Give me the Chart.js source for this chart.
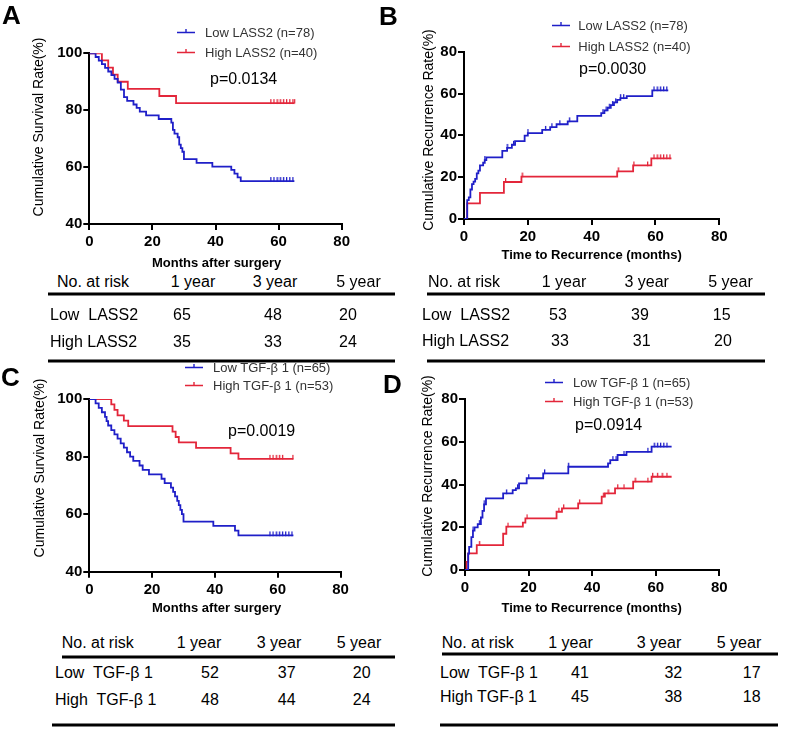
<!DOCTYPE html>
<html><head><meta charset="utf-8">
<script src="https://cdn.jsdelivr.net/npm/chart.js@4.4.1/dist/chart.umd.min.js"></script>
<style>
html,body{margin:0;padding:0;background:#fff;}
#wrap{position:relative;width:787px;height:730px;overflow:hidden;font-family:"Liberation Sans",Arial,Helvetica,sans-serif;color:#000;}
canvas{position:absolute;}
.t{position:absolute;white-space:pre;line-height:1;transform:translateY(-50%);}
.c{transform:translate(-50%,-50%);}
.r{transform:translate(-50%,-50%) rotate(-90deg);}
.hl{position:absolute;height:3px;background:#000;transform:translateY(-50%);}
</style></head><body><div id="wrap"></div>
<script>
// ---------- data ----------
const xTicks = [0, 20, 40, 60, 80];
const survTicks = [40, 60, 80, 100];
const recTicks = [0, 20, 40, 60, 80];

// Panel A: overall survival by LASS2
const tA_low  = [0,2,3,4,5,6,7,8,9,10,11,12,14,15,16,18,22,26,26.5,27,28,28.5,29,29.5,30,34,39,45,46,47,48,65];
const sA_low  = [100,98.7,97.4,96.2,94.9,93.6,92.3,91.0,89.7,87.2,84.6,83.3,82.0,80.8,79.5,78.2,76.9,75.6,73.1,71.8,70.5,67.9,66.7,65.4,62.8,61.5,60.2,59.0,57.7,56.4,55.1,55.1];
const cA_low  = [57.5,58.5,59.5,60.5,61.5,62.5,63.5,64.5];
const tA_high = [0,4,6,7.5,9,12.2,22.2,27.5,65];
const sA_high = [100,97.5,95,92.5,90,87.5,85,82.5,82.5];
const cA_high = [57.5,58.5,59.5,60.5,61.5,62.5,63.5,64.5,65];

// Panel B: recurrence by LASS2
const tB_low  = [0,1,1.5,2,2.5,3,3.5,4,4.5,5,6,6.5,7,12,13.5,15,16,19,20,24.5,27,29,32.5,35.5,43,44,45,46,47,48,49,51,59,64];
const sB_low  = [0,9.0,10.3,14.1,16.7,17.9,19.2,21.8,23.1,25.6,26.9,28.2,29.5,32.6,34.0,35.5,37.2,39.9,41.1,42.6,43.9,45.3,46.7,49.3,50.6,51.9,53.2,54.5,55.8,57.0,57.8,58.8,61.5,61.5];
const cB_low  = [6.5,13.5,15.5,20,25.5,27.5,30,33,43.5,44.5,45.5,46.5,47.5,49,50,59.5,60.5,61.5,62.5,63.5];
const tB_high = [0,1,5,12.5,18,48,53,58.7,65];
const sB_high = [0,7.5,12.5,17.7,20.3,22.8,25.6,29.0,29.0];
const cB_high = [13,18.2,48.3,53.2,57.5,59.5,60.5,61.5,62.5,63.5,64.5];

// Panel C: overall survival by TGF-β1
const tC_low  = [0,2,3,4,5,5.5,6,7,8,9,10,11,12,13,14,16,17,19,23,24,26,26.7,27.3,28,28.5,29,29.5,30,39.5,46.4,47.5,65];
const sC_low  = [100,98.5,96.9,95.4,93.8,92.3,90.8,89.2,87.7,86.2,84.6,83.1,81.5,80.0,78.5,76.9,75.4,73.8,72.3,70.8,69.2,67.7,66.2,64.6,63.1,61.5,60.0,57.4,55.9,54.3,52.6,52.6];
const cC_low  = [57.5,58.5,59.5,60.5,61.5,62.5,63.5,64.5];
const tC_high = [0,7,8,9,11,12.4,26.5,27.5,28.5,34,45,47.5,65];
const sC_high = [100,98.1,96.2,94.3,92.5,90.6,88.7,86.8,84.9,83.0,81.1,79.2,79.2];
const cC_high = [57.5,58.5,59.5,60.5,61.5,64.8];

// Panel D: recurrence by TGF-β1
const tD_low  = [0,1,1.3,2,2.5,3,4,5,5.5,6,6.6,12,15,16,17,19.4,24.6,32.5,45,45.7,48,50.8,58.7,65];
const sD_low  = [0,7.7,10.8,15.4,18.5,20.0,21.5,24.6,27.7,30.8,33.6,35.9,37.4,38.3,40.6,43.0,45.3,48.4,50.0,51.5,53.9,55.4,57.8,57.8];
const cD_low  = [2.5,4.5,6,13,16.5,20,25,32.5,46.5,47.5,50,57.5,59.5,60.5,61.5,62.5,63.5];
const tD_high = [0,0.5,1,3.7,12,13,18.2,19,28.8,30.5,35.6,43,44,47.2,52.9,58.7,65];
const sD_high = [0,3.8,7.8,11.7,17.0,20.3,22.2,24.2,27.3,28.9,31.2,34.4,35.9,38.3,41.4,43.7,43.7];
const cD_high = [4.5,13.5,19.5,29.5,31,36,43.5,45,48,50,53.5,57.5,59,60.5,62,63.5];

// Legends, p-values, titles
const legendA = ["Low LASS2 (n=78)", "High LASS2 (n=40)"];
const legendB = ["Low LASS2 (n=78)", "High LASS2 (n=40)"];
const legendC = ["Low TGF-\u03b2 1 (n=65)", "High TGF-\u03b2 1 (n=53)"];
const legendD = ["Low TGF-\u03b2 1 (n=65)", "High TGF-\u03b2 1 (n=53)"];
const pValues = ["p=0.0134", "p=0.0030", "p=0.0019", "p=0.0914"];
const xTitles = ["Months after surgery", "Time to Recurrence (months)", "Months after surgery", "Time to Recurrence (months)"];
const yTitles = ["Cumulative Survival Rate(%)", "Cumulative Recurrence Rate(%)", "Cumulative Survival Rate(%)", "Cumulative Recurrence Rate(%)"];

// Number-at-risk tables
const riskHeader = ["No. at risk", "1 year", "3 year", "5 year"];
const riskRowsA = ["Low  LASS2", "High LASS2"];
const riskA_low = [65, 48, 20], riskA_high = [35, 33, 24];
const riskRowsB = ["Low  LASS2", "High LASS2"];
const riskB_low = [53, 39, 15], riskB_high = [33, 31, 20];
const riskRowsC = ["Low  TGF-\u03b2 1", "High  TGF-\u03b2 1"];
const riskC_low = [52, 37, 20], riskC_high = [48, 44, 24];
const riskRowsD = ["Low  TGF-\u03b2 1", "High TGF-\u03b2 1"];
const riskD_low = [41, 32, 17], riskD_high = [45, 38, 18];

// ---------- helpers ----------
const BLUE = '#1f1fc8', RED = '#e3263a';
const FAM = '"Liberation Sans", Arial, Helvetica, sans-serif';
const wrap = document.getElementById('wrap');

function txt(s, x, y, size, opts = {}) {
  const d = document.createElement('div');
  d.className = 't' + (opts.center ? ' c' : '') + (opts.rot ? ' r' : '');
  d.style.left = x + 'px'; d.style.top = y + 'px';
  d.style.fontSize = size + 'px';
  if (opts.bold) d.style.fontWeight = 'bold';
  if (opts.color) d.style.color = opts.color;
  d.textContent = s;
  wrap.appendChild(d);
  return d;
}
function hline(x1, x2, y) {
  const d = document.createElement('div');
  d.className = 'hl';
  d.style.left = x1 + 'px'; d.style.top = y + 'px'; d.style.width = (x2 - x1) + 'px';
  wrap.appendChild(d);
}
function legendItem(label, color, x, y, tx) {
  const d = document.createElement('div');
  d.className = 't';
  d.style.left = x + 'px'; d.style.top = y + 'px'; d.style.fontSize = '13px'; d.style.color = '#333';
  d.innerHTML = '<svg width="' + (tx - x) + '" height="10" style="vertical-align:middle;margin-top:-3px">' +
    '<line x1="0" y1="6" x2="18" y2="6" stroke="' + color + '" stroke-width="1.6"/>' +
    '<line x1="9" y1="2.5" x2="9" y2="6" stroke="' + color + '" stroke-width="1.4"/></svg>';
  const sp = document.createElement('span'); sp.textContent = label; d.appendChild(sp);
  wrap.appendChild(d);
}
function tickImg(color) {
  const c = document.createElement('canvas'); c.width = 3; c.height = 10;
  const g = c.getContext('2d'); g.fillStyle = color; g.fillRect(1, 1, 1.3, 4.5);
  return c;
}
function valueAt(ts, ss, t) { let v = ss[0]; for (let i = 0; i < ts.length; i++) if (ts[i] <= t) v = ss[i]; return v; }
function pts(ts, ss) { return ts.map((t, i) => ({x: t, y: ss[i]})); }
function cens(cs, ts, ss) { return cs.map(t => ({x: t, y: valueAt(ts, ss, t)})); }

function makeChart(left, top, W, H, area, yTicks, series) {
  const cv = document.createElement('canvas');
  cv.width = W; cv.height = H; cv.style.left = left + 'px'; cv.style.top = top + 'px';
  cv.style.width = W + 'px'; cv.style.height = H + 'px';
  wrap.appendChild(cv);
  const [tl, sl, cl, th, sh, ch] = series;
  const tickFont = {family: FAM, size: 15, weight: 'bold'};
  new Chart(cv.getContext('2d'), {
    type: 'line',
    data: {datasets: [
      {data: pts(tl, sl), borderColor: BLUE, borderWidth: 1.8, stepped: 'before', pointRadius: 0, fill: false},
      {data: pts(th, sh), borderColor: RED, borderWidth: 1.8, stepped: 'before', pointRadius: 0, fill: false},
      {data: cens(cl, tl, sl), showLine: false, pointStyle: tickImg(BLUE), pointRadius: 4, borderWidth: 0},
      {data: cens(ch, th, sh), showLine: false, pointStyle: tickImg(RED), pointRadius: 4, borderWidth: 0}
    ]},
    options: {
      responsive: false, animation: false, devicePixelRatio: 1,
      layout: {padding: {left: 0, top: area.top, right: W - area.right, bottom: 0}},
      plugins: {legend: {display: false}, tooltip: {enabled: false}},
      scales: {
        x: {type: 'linear', min: xTicks[0], max: xTicks[xTicks.length - 1],
            afterBuildTicks: s => { s.ticks = xTicks.map(v => ({value: v})); },
            afterFit: s => { s.height = H - area.bottom; },
            grid: {drawOnChartArea: false, drawTicks: true, tickLength: 6, color: '#000', lineWidth: 2},
            border: {display: true, color: '#000', width: 2},
            ticks: {color: '#000', font: tickFont, padding: 3, maxRotation: 0}},
        y: {type: 'linear', min: yTicks[0], max: yTicks[yTicks.length - 1],
            afterBuildTicks: s => { s.ticks = yTicks.map(v => ({value: v})); },
            afterFit: s => { s.width = area.left; },
            grid: {drawOnChartArea: false, drawTicks: true, tickLength: 6, color: '#000', lineWidth: 2},
            border: {display: true, color: '#000', width: 2},
            ticks: {color: '#000', font: tickFont, padding: 1}}
      }
    }
  });
}

function riskTable(cfg) {
  txt(riskHeader[0], cfg.hx, cfg.hy, 16);
  for (let i = 1; i < 4; i++) txt(riskHeader[i], cfg.hc[i - 1], cfg.hy, 16, {center: true});
  hline(cfg.l1[0], cfg.l1[1], cfg.l1[2]);
  txt(cfg.rows[0], cfg.rx, cfg.y1, 16);
  txt(cfg.rows[1], cfg.rx, cfg.y2, 16);
  for (let i = 0; i < 3; i++) {
    txt(String(cfg.low[i]), cfg.vc1[i], cfg.y1, 16, {center: true});
    txt(String(cfg.high[i]), cfg.vc2[i], cfg.y2, 16, {center: true});
  }
  hline(cfg.l2[0], cfg.l2[1], cfg.l2[2]);
}

// ---------- panels ----------
makeChart(0, 0, 390, 270, {left: 89.3, top: 53.3, right: 341.7, bottom: 224}, survTicks,
  [tA_low, sA_low, cA_low, tA_high, sA_high, cA_high]);
makeChart(390, 0, 397, 270, {left: 74, top: 51.7, right: 329.3, bottom: 219}, recTicks,
  [tB_low, sB_low, cB_low, tB_high, sB_high, cB_high]);
makeChart(0, 370, 390, 250, {left: 89.3, top: 29, right: 340.5, bottom: 201.7}, survTicks,
  [tC_low, sC_low, cC_low, tC_high, sC_high, cC_high]);
makeChart(390, 370, 397, 250, {left: 75, top: 29.3, right: 329.3, bottom: 200}, recTicks,
  [tD_low, sD_low, cD_low, tD_high, sD_high, cD_high]);

// panel letters
txt('A', 2, 15, 26, {bold: true});
txt('B', 379, 16, 26, {bold: true});
txt('C', 1, 377, 26, {bold: true});
txt('D', 383, 384, 26, {bold: true});

// legends
legendItem(legendA[0], BLUE, 177, 32.3, 205); legendItem(legendA[1], RED, 177, 51.7, 205);
legendItem(legendB[0], BLUE, 551.7, 25, 578.3); legendItem(legendB[1], RED, 551.7, 45.7, 578.3);
legendItem(legendC[0], BLUE, 185, 366.7, 213); legendItem(legendC[1], RED, 185, 385, 213);
legendItem(legendD[0], BLUE, 545, 381.7, 573); legendItem(legendD[1], RED, 545, 401, 573);

// p-values
txt(pValues[0], 210, 79, 16); txt(pValues[1], 579, 69.3, 16);
txt(pValues[2], 228, 430.7, 16); txt(pValues[3], 575, 425, 16);

// axis titles
txt(xTitles[0], 216.7, 261.7, 13, {bold: true, center: true});
txt(xTitles[1], 591.7, 254, 13, {bold: true, center: true});
txt(xTitles[2], 216.7, 607.3, 13, {bold: true, center: true});
txt(xTitles[3], 591.7, 607.3, 13, {bold: true, center: true});
txt(yTitles[0], 38, 127, 14, {rot: true});
txt(yTitles[1], 428, 130, 14, {rot: true});
txt(yTitles[2], 39, 468, 14, {rot: true});
txt(yTitles[3], 427, 476, 14, {rot: true});

// risk tables
riskTable({hx: 57, hy: 282, hc: [193, 275, 358.5], l1: [48, 395, 294], rows: riskRowsA, rx: 50, y1: 315, y2: 342,
  low: riskA_low, high: riskA_high, vc1: [182, 273, 348], vc2: [182, 273, 348], l2: [48, 395, 360.7]});
riskTable({hx: 428, hy: 281.7, hc: [564, 646.7, 730.5], l1: [426.7, 765, 294], rows: riskRowsB, rx: 422, y1: 315, y2: 341,
  low: riskB_low, high: riskB_high, vc1: [558, 640, 721.7], vc2: [560, 641.7, 723], l2: [426.7, 765, 360.7]});
riskTable({hx: 61.7, hy: 643.3, hc: [199, 279, 359], l1: [61.7, 395, 656.7], rows: riskRowsC, rx: 55, y1: 672.7, y2: 700,
  low: riskC_low, high: riskC_high, vc1: [210, 286.7, 361.7], vc2: [210, 286.7, 361.7], l2: [51.7, 395, 725]});
riskTable({hx: 441.7, hy: 642.7, hc: [570.5, 659, 739], l1: [441.7, 778, 654.3], rows: riskRowsD, rx: 440, y1: 672.7, y2: 696.7,
  low: riskD_low, high: riskD_high, vc1: [580, 673.3, 751.7], vc2: [580, 673.3, 751.7], l2: [440, 778, 725]});
</script></body></html>
